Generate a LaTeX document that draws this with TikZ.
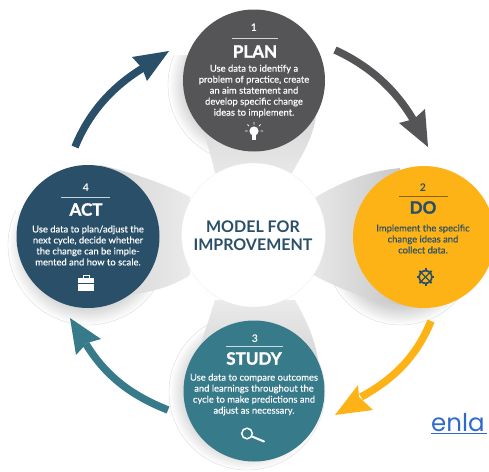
\documentclass[tikz,border=0pt]{standalone}
\usepackage{fontspec}
\setmainfont{Lato}
\newfontfamily\linkfont{Poppins}
\newfontfamily\heavyfont[FakeBold=1.6]{Lato Bold}
\newfontfamily\bodyfont[FakeBold=0.25]{Lato}
\usetikzlibrary{calc}
\definecolor{planc}{HTML}{555557}
\definecolor{doc}{HTML}{FDB316}
\definecolor{studyc}{HTML}{377A8A}
\definecolor{actc}{HTML}{2A5069}
\definecolor{linkc}{HTML}{2F69CE}
\pgfdeclareradialshading{haloshade}{\pgfpoint{0bp}{0bp}}{color(0bp)=(black!18);color(19bp)=(black!18);color(25bp)=(black!0);color(50bp)=(white)}
\tikzset{
  stage/.style={circle,inner sep=0pt,minimum size=#1},
  num/.style={font=\fontsize{10.5}{12}\selectfont\bfseries,inner sep=0pt},
  ttl/.style={font=\fontsize{17}{20}\selectfont\heavyfont,inner sep=0pt},
  body/.style={font=\fontsize{9.4}{11}\selectfont\bodyfont,align=center,inner sep=0pt},
  halo/.style={shading=haloshade,draw=black!15,line width=.35pt},
  wedgeshape/.style={draw=none},
  shaft/.style={line width=7.5pt,line cap=butt},
  rulel/.style={line width=.9pt},
}
\begin{document}
\begin{tikzpicture}[x=1pt,y=-1pt]
\useasboundingbox (0,0) rectangle (489,471);
\fill[white] (0,0) rectangle (489,471);
% halos
\begin{scope}
  \clip (150,55) rectangle (340,175);
  \path[halo] (245,85) circle[radius=77];
\end{scope}
\begin{scope}
  \clip (0,210) rectangle (180,340);
  \path[halo] (88,245) circle[radius=80];
\end{scope}
\path[halo] (247,392) circle[radius=78];
\path[halo] (401,249) circle[radius=76];
% wedges
\shade[wedgeshape,top color=black!15,bottom color=black!9] (215,173) .. controls (212,160) and (208,145) .. (203,130) -- (316,117) .. controls (312,140) and (302,155) .. (292,173) -- cycle;
\shade[wedgeshape,left color=black!9,right color=black!22] (316,197) .. controls (345,180) and (370,171) .. (400,168) -- (405,306) .. controls (370,300) and (340,290) .. (312,274) -- cycle;
\shade[wedgeshape,right color=black!8,left color=black!17] (190,197) .. controls (170,186) and (135,173) .. (100,165) -- (130,295) .. controls (150,292) and (172,287) .. (190,275) -- cycle;
\shade[wedgeshape,bottom color=black!16,top color=black!8] (215,300) .. controls (211,312) and (206,330) .. (200,345) -- (318,360) .. controls (315,338) and (305,318) .. (295,300) -- cycle;
% stage circles
\node[stage=142pt,fill=planc] (plan) at (254,80.5) {};
\node[stage=143pt,fill=actc] (act) at (88,236.5) {};
\node[stage=142pt,fill=doc] (do) at (424,237) {};
\node[stage=141pt,fill=studyc] (study) at (254,391) {};
\node[stage=144pt,fill=white,draw=black!8,line width=.3pt] (hub) at (253.5,235) {};
% centre label
\node[font=\fontsize{16}{18}\selectfont\bfseries,text=actc,align=center,inner sep=0pt] (hubtext) at (253,236) {MODEL FOR\\IMPROVEMENT};
% PLAN text
\node[num,text=white] (plann) at (254,28) {1};
\draw[rulel,white!75!planc] (232,38) -- (278,38);
\node[ttl,text=white] (plant) at (255,51.5) {PLAN};
\node[body,text=white] (planb) at (254,91) {Use data to identify a\\problem of practice, create\\an aim statement and\\develop specific change\\ideas to implement.};
% ACT text
\node[num,text=white] (actn) at (86,188) {4};
\draw[rulel,white!75!actc] (61,197) -- (110,197);
\node[ttl,text=white] (actt) at (86,209.5) {ACT};
\node[body,text=white] (actb) at (88,245.5) {Use data to plan/adjust the\\next cycle, decide whether\\the change can be imple-\\mented and how to scale.};
% DO text
\node[num,text=actc] (don) at (423,188) {2};
\draw[rulel,black!45!doc] (399,196) -- (448,196);
\node[ttl,text=actc] (dot) at (423,207.5) {DO};
\node[body,text=actc] (dob) at (423,239) {Implement the specific\\change ideas and\\collect data.};
% STUDY text
\node[num,text=white] (studyn) at (255,339) {3};
\draw[rulel,white!75!studyc] (226,346) -- (283,346);
\node[ttl,text=white] (studyt) at (254,358.5) {STUDY};
\node[body,text=white] (studyb) at (254,394.5) {Use data to compare outcomes\\and learnings throughout the\\cycle to make predictions and\\adjust as necessary.};
% bulb icon
\begin{scope}[shift={(254,132)}]
  \fill[white] (0,-1) circle[radius=4.6];
  \fill[white] (-2.4,2.5) rectangle (2.4,7.5);
  \draw[white,line width=.8pt] (-9,-1) -- (-6.5,-1) (6.5,-1) -- (9,-1) (-6.5,-7.5) -- (-5,-5.8) (6.5,-7.5) -- (5,-5.8) (0,-10) -- (0,-7.5);
\end{scope}
% briefcase icon
\begin{scope}[shift={(86,284)}]
  \fill[white] (-8,-6) rectangle (8,7);
  \draw[white,line width=.9pt] (-3,-6) -- (-3,-9) -- (3,-9) -- (3,-6);
  \draw[actc,line width=.5pt] (-8,-.5) -- (8,-.5);
\end{scope}
% gear icon
\begin{scope}[shift={(425.5,277)}]
  \draw[actc,line width=1.7pt] (0,0) circle[radius=6.3];
  \foreach \a in {0,45,...,315} {\draw[actc,line width=2pt] (\a:6.3) -- (\a:8.6);}
  \draw[actc,line width=1.1pt] (45:6) -- (225:6) (135:6) -- (315:6);
\end{scope}
% magnifier icon
\begin{scope}[shift={(247,433.5)}]
  \draw[white,line width=1.5pt] (0,0) circle[radius=5.3];
  \draw[white,line width=2pt,line cap=round] (5,3) -- (17,8);
\end{scope}
% arrows
\coordinate (a1s) at (335,50); \coordinate (a1e) at (414,121);
\coordinate (a1t) at (428,147); \coordinate (a1l) at (399,123); \coordinate (a1r) at (425,109);
\draw[shaft,planc] (a1s) .. controls (370,66) and (396,90) .. (a1e);
\fill[planc] (a1t) -- (a1l) -- (414,119) -- (a1r) -- cycle;
\coordinate (a2s) at (431,321); \coordinate (a2e) at (361,397);
\coordinate (a2t) at (335,415); \coordinate (a2l) at (358,385); \coordinate (a2r) at (373,410);
\draw[shaft,doc] (a2s) .. controls (416,358) and (392,380) .. (a2e);
\fill[doc] (a2t) -- (a2l) -- (359,397) -- (a2r) -- cycle;
\coordinate (a3s) at (168,410); \coordinate (a3e) at (86,344);
\coordinate (a3t) at (70,318); \coordinate (a3l) at (76,355); \coordinate (a3r) at (101,339);
\draw[shaft,studyc] (a3s) .. controls (130,395) and (105,375) .. (a3e);
\fill[studyc] (a3t) -- (a3l) -- (87,343) -- (a3r) -- cycle;
\coordinate (a4s) at (75,147); \coordinate (a4e) at (143,68);
\coordinate (a4t) at (169,51); \coordinate (a4l) at (132,57); \coordinate (a4r) at (147,81);
\draw[shaft,actc] (a4s) .. controls (90,110) and (115,85) .. (a4e);
\fill[actc] (a4t) -- (a4l) -- (142,68) -- (a4r) -- cycle;
% link text
\node[font=\linkfont\fontsize{24.5}{26}\selectfont,text=linkc,anchor=base west,inner sep=0pt] (link) at (431,431) {enla};
\draw[linkc,line width=.9pt] (431,433.5) -- (487,433.5);
\end{tikzpicture}
\end{document}
